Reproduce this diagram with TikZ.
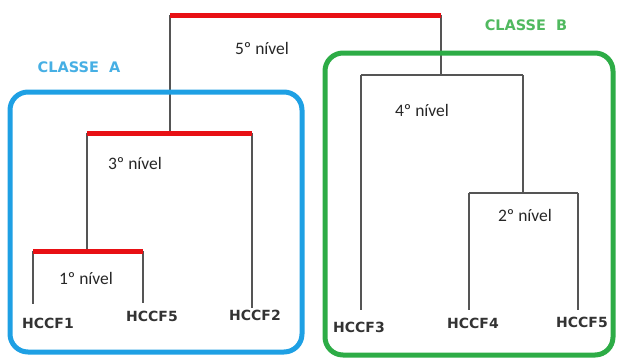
\documentclass[tikz,border=0pt]{standalone}
\usepackage{fontspec}
\usepackage{xcolor}
\usepackage{tikz}
\setmainfont{Carlito}
\newfontfamily\folhafont{DejaVu Sans}
\definecolor{azulA}{RGB}{30,160,228}
\definecolor{verdeB}{RGB}{45,172,70}
\definecolor{textoA}{RGB}{70,175,228}
\definecolor{textoB}{RGB}{80,185,95}
\definecolor{vermelho}{RGB}{232,16,20}
\definecolor{cinza}{RGB}{85,85,85}

\begin{document}
\begin{tikzpicture}[x=1pt,y=-1pt,
    ramo/.style={draw=cinza,line width=1.2pt},
    barra/.style={draw=vermelho,line width=5pt},
    caixa/.style={line width=5pt,rounded corners=18pt},
    nivel/.style={font=\fontsize{17.5}{17.5}\selectfont,text=black!85},
    folha/.style={font=\folhafont\bfseries\fontsize{14}{14}\selectfont,text=black!80},
    classe/.style={font=\folhafont\bfseries\fontsize{14.5}{14.5}\selectfont}]
    \useasboundingbox (0,0) rectangle (617,357);
    % Pontos do dendrograma
    \coordinate (t1) at (170,15);  \coordinate (t2) at (441,15);  % 5o nivel
    \coordinate (n3a) at (87,133); \coordinate (n3b) at (252,133); % 3o nivel
    \coordinate (m3) at (170,133);
    \coordinate (n4a) at (361,75); \coordinate (n4b) at (523,75); % 4o nivel
    \coordinate (m4) at (441,75);
    \coordinate (n1a) at (33,251); \coordinate (n1b) at (143,251); % 1o nivel
    \coordinate (m1) at (87,251);
    \coordinate (n2a) at (469,193); \coordinate (n2b) at (578,193); % 2o nivel
    \coordinate (m2) at (523,193);
    % Pontas das folhas
    \coordinate (e1) at (33,304);
    \coordinate (e5) at (143,303);
    \coordinate (e2) at (252,308);
    \coordinate (e3) at (361,310);
    \coordinate (e4) at (469,310);
    \coordinate (e6) at (578,310);
    % Ramos
    \draw[ramo](t1) -- (m3);
    \draw[ramo](t2) -- (m4);
    \draw[ramo](n3a) -- (m1);
    \draw[ramo](n3b) -- (e2);
    \draw[ramo](n1a) -- (e1);
    \draw[ramo](n1b) -- (e5);
    \draw[ramo](n4a) -- (n4b); % 4o nivel
    \draw[ramo](n4a) -- (e3);
    \draw[ramo](n4b) -- (m2);
    \draw[ramo](n2a) -- (n2b); % 2o nivel
    \draw[ramo](n2a) -- (e4);
    \draw[ramo](n2b) -- (e6);
    % Barras vermelhas
    \draw[barra](t1) -- (t2);
    \draw[barra](n3a) -- (n3b);
    \draw[barra](n1a) -- (n1b);
    % Classes
    \draw[caixa,draw=azulA](10,92) rectangle (302,352); % Classe A
    \draw[caixa,draw=verdeB](325,53) rectangle (613,355); % Classe B
    \path(79,67) node[classe,text=textoA](cA){CLASSE\ \ A};
    \path(526,25) node[classe,text=textoB](cB){CLASSE\ \ B};
    % Niveis
    \path(262,48) node[nivel](nv5){5º nível};
    \path(135,163) node[nivel](nv3){3º nível};
    \path(422,110) node[nivel](nv4){4º nível};
    \path(525,215) node[nivel](nv2){2º nível};
    \path(86,278) node[nivel](nv1){1º nível};
    % Folhas
    \path(48,323) node[folha](f1){HCCF1};
    \path(152,316) node[folha](f5a){HCCF5};
    \path(255,315) node[folha](f2){HCCF2};
    \path(359,327) node[folha](f3){HCCF3};
    \path(473,323) node[folha](f4){HCCF4};
    \path(582,322) node[folha](f5b){HCCF5};
\end{tikzpicture}
\end{document}
